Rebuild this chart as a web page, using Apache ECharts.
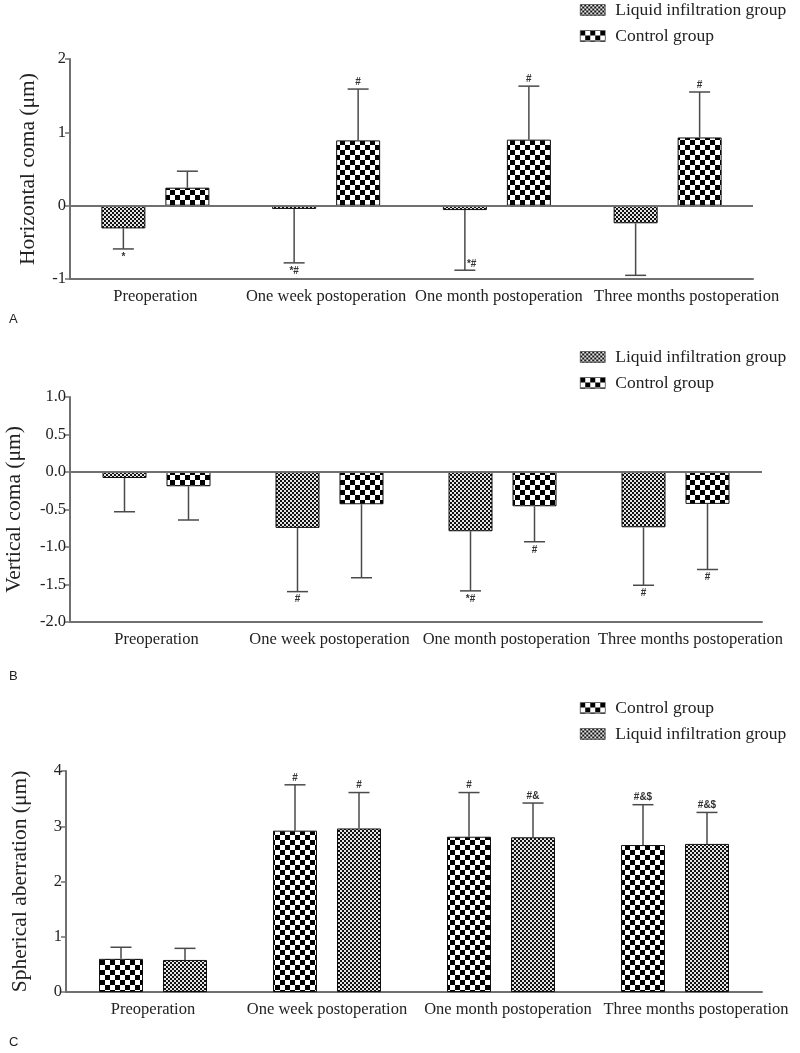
<!DOCTYPE html>
<html>
<head>
<meta charset="utf-8">
<script src="https://cdn.jsdelivr.net/npm/echarts@6/dist/echarts.min.js"></script>
<style>
html,body{margin:0;padding:0;background:#fff;}
#chart{width:800px;height:1053px;}
</style>
</head>
<body>
<div id="chart"></div>
<script>
// ---------------- DATA ----------------
const categories = ['Preoperation', 'One week postoperation', 'One month postoperation', 'Three months postoperation'];

// Panel A: Horizontal coma (μm)
const hcLiquid = [-0.31, -0.045, -0.06, -0.24];
const hcLiquidSD = [0.28, 0.735, 0.82, 0.71];
const hcLiquidMarks = ['*', '*#', '*#', ''];
const hcControl = [0.245, 0.89, 0.90, 0.93];
const hcControlSD = [0.225, 0.70, 0.73, 0.62];
const hcControlMarks = ['', '#', '#', '#'];
const hcTicks = [-1, 0, 1, 2];

// Panel B: Vertical coma (μm)
const vcLiquid = [-0.08, -0.745, -0.79, -0.737];
const vcLiquidSD = [0.45, 0.85, 0.795, 0.773];
const vcLiquidMarks = ['', '#', '*#', '#'];
const vcControl = [-0.19, -0.43, -0.457, -0.425];
const vcControlSD = [0.45, 0.98, 0.473, 0.875];
const vcControlMarks = ['', '', '#', '#'];
const vcTicks = [-2.0, -1.5, -1.0, -0.5, 0.0, 0.5, 1.0];

// Panel C: Spherical aberration (μm)
const saControl = [0.60, 2.92, 2.81, 2.66];
const saControlSD = [0.21, 0.83, 0.80, 0.73];
const saControlMarks = ['', '#', '#', '#&$'];
const saLiquid = [0.58, 2.96, 2.80, 2.68];
const saLiquidSD = [0.21, 0.65, 0.62, 0.57];
const saLiquidMarks = ['', '#', '#&', '#&$'];
const saTicks = [0, 1, 2, 3, 4];

const LIQ = 'Liquid infiltration group';
const CTRL = 'Control group';

// ---------------- STYLE ----------------
const SERIF = '"Liberation Serif", "DejaVu Serif", serif';
const SANS = '"Liberation Sans", Arial, sans-serif';
const AXIS_COLOR = '#707070';
const ERR_COLOR = '#4a4a4a';
const BAR_W = 44, BAR_GAP = 20;
// horizontal nudges (px) of the category labels, per panel, as in the original figure
const labelNudge = [[0, 0, 2, 19], [0, 0, 4, 15], [0, 0, 7, 21]];

function checker(cell, c1, c2) {
  const n = cell * 2;
  const cv = document.createElement('canvas');
  cv.width = n; cv.height = n;
  const ctx = cv.getContext('2d');
  ctx.fillStyle = c2; ctx.fillRect(0, 0, n, n);
  ctx.fillStyle = c1;
  ctx.fillRect(0, 0, cell, cell);
  ctx.fillRect(cell, cell, cell, cell);
  return cv;
}
const patCoarse = { image: checker(5, '#000', '#fff'), repeat: 'repeat' };
const patFine = { image: checker(2, '#111', '#e6e6e6'), repeat: 'repeat' };
const styleOf = { [LIQ]: patFine, [CTRL]: patCoarse };

const grids = [
  { left: 70, right: 47, top: 59, bottom: 774, outerBoundsMode: 'none', containLabel: false },
  { left: 70, right: 38, top: 397, bottom: 431, outerBoundsMode: 'none', containLabel: false },
  { left: 66, right: 38, top: 771, bottom: 61, outerBoundsMode: 'none', containLabel: false }
];

function xAxisFor(gi) {
  const rich = {};
  labelNudge[gi].forEach((n, i) => {
    rich['p' + i] = { fontFamily: SERIF, fontSize: 16.5, color: '#222', padding: [0, 0, 0, 2 * n] };
  });
  return {
    type: 'category', gridIndex: gi, data: categories,
    axisLine: { onZero: false, lineStyle: { color: AXIS_COLOR, width: 2 } },
    axisTick: { alignWithLabel: true, length: 5, lineStyle: { color: AXIS_COLOR, width: 1.5 } },
    axisLabel: { color: '#222', fontFamily: SERIF, fontSize: 16.5, margin: 9, interval: 0,
      hideOverlap: false,
      formatter: (v, i) => '{p' + i + '|' + v + '}', rich: rich },
    splitLine: { show: false }
  };
}
function yAxisFor(gi, ticks, name, gap, dec) {
  const step = ticks[1] - ticks[0];
  return {
    type: 'value', gridIndex: gi,
    min: ticks[0], max: ticks[ticks.length - 1], interval: step,
    name: name, nameLocation: 'middle', nameGap: gap,
    nameTextStyle: { fontFamily: SERIF, fontSize: 21.5, color: '#222' },
    axisLine: { show: true, lineStyle: { color: AXIS_COLOR, width: 2 } },
    axisTick: { show: true, length: 5, lineStyle: { color: AXIS_COLOR, width: 1.5 } },
    axisLabel: { color: '#222', fontFamily: SERIF, fontSize: 16.5, margin: 4,
      formatter: v => dec ? v.toFixed(1) : String(v) },
    splitLine: { show: false }
  };
}

function barSeries(gi, name, values, zeroLine) {
  const s = {
    type: 'bar', name: name, xAxisIndex: gi, yAxisIndex: gi,
    data: values, barWidth: BAR_W, barGap: (BAR_GAP / BAR_W * 100) + '%',
    itemStyle: { color: styleOf[name], borderColor: '#111', borderWidth: 1 },
    emphasis: { disabled: true }, z: 2
  };
  if (zeroLine) {
    s.markLine = {
      silent: true, symbol: 'none', label: { show: false },
      lineStyle: { color: AXIS_COLOR, width: 1.8, type: 'solid' },
      data: [{ yAxis: 0 }], animation: false
    };
  }
  return s;
}

function errSeries(gi, name, side, values, sds, marks) {
  const data = values.map((v, i) => {
    const end = v >= 0 ? v + sds[i] : v - sds[i];
    return [i, v, end, marks[i]];
  });
  return {
    type: 'custom', name: name, xAxisIndex: gi, yAxisIndex: gi, z: 5,
    data: data, silent: true,
    renderItem: function (params, api) {
      const idx = api.value(0), v = api.value(1), end = api.value(2);
      const mark = data[params.dataIndex][3];
      const off = side * (BAR_W + BAR_GAP) / 2;
      const p0 = api.coord([idx, v]);
      const p1 = api.coord([idx, end]);
      const x = p0[0] + off;
      const cs = params.coordSys;
      const children = [
        { type: 'line', shape: { x1: x, y1: p0[1], x2: x, y2: p1[1] },
          style: { stroke: ERR_COLOR, lineWidth: 1.5 } },
        { type: 'line', shape: { x1: x - 10.5, y1: p1[1], x2: x + 10.5, y2: p1[1] },
          style: { stroke: ERR_COLOR, lineWidth: 1.5 } }
      ];
      if (mark) {
        const up = end > v;
        let tx = x, ty, va, ta = 'center';
        if (up) { ty = p1[1] - 2; va = 'bottom'; }
        else if (p1[1] + 13 > cs.y + cs.height) { tx = x + 2; ty = p1[1] - 1; va = 'bottom'; ta = 'left'; }
        else { ty = p1[1] + 3; va = 'top'; }
        children.push({ type: 'text', x: tx, y: ty,
          style: { text: mark, fill: '#333', font: 'bold 10px ' + SANS, align: ta, verticalAlign: va } });
      }
      return { type: 'group', children: children };
    }
  };
}

function legendFor(top, order) {
  return {
    orient: 'vertical', left: 575, top: top, itemGap: 8,
    itemWidth: 25, itemHeight: 11, icon: 'rect', selectedMode: false,
    data: order,
    textStyle: { fontFamily: SERIF, fontSize: 17.5, color: '#222', padding: [0, 0, 0, 5] },
    itemStyle: { borderColor: '#111', borderWidth: 0.5 }
  };
}

const option = {
  animation: false,
  backgroundColor: '#fff',
  grid: grids,
  legend: [
    legendFor(-4, [LIQ, CTRL]),
    legendFor(343, [LIQ, CTRL]),
    legendFor(694, [CTRL, LIQ])
  ],
  xAxis: [xAxisFor(0), xAxisFor(1), xAxisFor(2)],
  yAxis: [
    yAxisFor(0, hcTicks, 'Horizontal coma (μm)', 31, false),
    yAxisFor(1, vcTicks, 'Vertical coma (μm)', 45, true),
    yAxisFor(2, saTicks, 'Spherical aberration (μm)', 35, false)
  ],
  graphic: [
    { type: 'text', left: 9, top: 313, style: { text: 'A', font: '13px ' + SANS, fill: '#222' } },
    { type: 'text', left: 9, top: 670, style: { text: 'B', font: '13px ' + SANS, fill: '#222' } },
    { type: 'text', left: 9, top: 1036, style: { text: 'C', font: '13px ' + SANS, fill: '#222' } }
  ],
  series: [
    barSeries(0, LIQ, hcLiquid, true),
    barSeries(0, CTRL, hcControl, false),
    errSeries(0, LIQ, -1, hcLiquid, hcLiquidSD, hcLiquidMarks),
    errSeries(0, CTRL, 1, hcControl, hcControlSD, hcControlMarks),

    barSeries(1, LIQ, vcLiquid, true),
    barSeries(1, CTRL, vcControl, false),
    errSeries(1, LIQ, -1, vcLiquid, vcLiquidSD, vcLiquidMarks),
    errSeries(1, CTRL, 1, vcControl, vcControlSD, vcControlMarks),

    barSeries(2, CTRL, saControl, false),
    barSeries(2, LIQ, saLiquid, false),
    errSeries(2, CTRL, -1, saControl, saControlSD, saControlMarks),
    errSeries(2, LIQ, 1, saLiquid, saLiquidSD, saLiquidMarks)
  ]
};

const chart = echarts.init(document.getElementById('chart'), null, { renderer: 'canvas' });
chart.setOption(option);
</script>
</body>
</html>
